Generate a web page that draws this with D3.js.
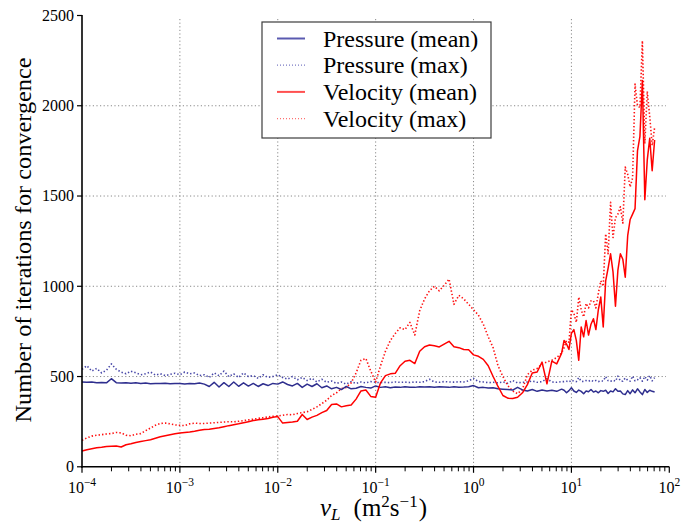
<!DOCTYPE html>
<html><head><meta charset="utf-8">
<script src="https://cdn.jsdelivr.net/npm/d3@7"></script>
<style>body{margin:0;background:#fff}svg{display:block}</style>
</head><body>
<svg id="chart" width="695" height="526"></svg>
<script>
// log10 of nu_L sample positions
const nuExp = [-4,-3.95,-3.9,-3.85,-3.8,-3.75,-3.7,-3.65,-3.6,-3.55,-3.5,-3.45,-3.4,-3.35,-3.3,-3.25,-3.2,-3.15,-3.1,-3.05,
-3,-2.95,-2.9,-2.85,-2.8,-2.75,-2.7,-2.65,-2.6,-2.55,-2.5,-2.45,-2.4,-2.35,-2.3,-2.25,-2.2,-2.15,-2.1,-2.05,
-2,-1.95,-1.9,-1.85,-1.8,-1.75,-1.7,-1.65,-1.6,-1.55,-1.5,-1.45,-1.4,-1.35,-1.3,-1.25,-1.2,-1.15,-1.1,-1.05,
-1,-0.95,-0.9,-0.85,-0.8,-0.75,-0.7,-0.65,-0.6,-0.55,-0.5,-0.45,-0.4,-0.35,-0.3,-0.25,-0.2,-0.15,-0.1,-0.05,
0,0.05,0.1,0.15,0.2,0.25,0.3,0.35,0.4,0.45,0.5,0.55,0.6,0.65,0.7,0.75,0.8,0.85,0.9,
0.925,0.95,0.975,1,1.025,1.05,1.075,1.1,1.125,1.15,1.175,1.2,1.225,1.25,1.275,1.3,1.325,1.35,1.375,1.4,
1.425,1.45,1.475,1.5,1.525,1.55,1.575,1.6,1.625,1.65,1.675,1.7,1.725,1.75,1.775,1.8,1.825,1.85];

const pressureMean = [470,468,470,466,467,465,488,466,464,466,
463,465,462,464,460,462,461,463,460,462,
461,459,462,460,464,458,445,468,442,466,
445,470,446,465,447,462,445,460,450,462,
458,470,456,448,462,440,458,445,460,438,
448,432,440,428,445,432,435,445,440,436,
448,440,443,438,442,440,443,441,440,443,
442,444,441,443,442,440,443,441,442,444,
450,438,440,436,438,432,430,428,425,440,
426,420,428,418,425,420,424,418,430,
424,410,422,438,420,412,425,418,405,420,
416,428,414,420,410,422,418,424,406,420,
415,432,418,420,404,400,422,405,426,410,
432,415,400,428,412,424,418,414];

const pressureMax = [540,560,530,545,520,535,570,540,525,515,
530,520,510,515,525,508,515,505,512,518,
510,525,515,520,505,510,495,520,505,530,
500,515,495,520,500,505,490,510,495,500,
510,495,485,500,482,495,478,490,470,485,
468,475,462,470,458,472,462,470,465,472,
468,466,468,466,470,468,469,467,470,468,
472,485,470,468,472,470,469,471,470,476,
490,472,470,466,468,465,470,462,478,465,
468,470,475,468,472,488,470,468,472,
472,474,470,480,474,472,494,474,472,478,
474,480,473,478,472,476,475,500,477,474,
480,474,502,476,474,492,480,474,502,476,
482,494,474,500,480,505,476,494];

const velocityMean = [88,95,100,105,108,112,114,115,110,122,
128,135,140,145,150,158,166,172,178,183,
187,190,193,197,202,206,208,212,216,222,
228,233,238,244,250,256,260,264,268,275,
278,242,245,248,252,290,262,275,285,300,
312,345,348,332,338,342,375,420,425,390,
385,465,505,515,518,560,585,590,572,640,
665,675,670,664,680,695,665,660,650,648,
620,612,595,560,500,445,395,380,378,385,
410,455,520,525,580,460,585,570,630,
700,680,650,740,760,700,590,775,720,810,
730,790,820,760,870,940,775,1030,1100,1180,
1080,890,1090,1180,1150,1050,1280,1370,1400,1430,
1750,1830,2140,1480,1700,1820,1640,1810];

const velocityMax = [147,160,170,175,178,182,184,190,188,175,
172,180,184,200,215,230,240,242,238,232,
230,228,238,242,240,240,242,244,246,248,
250,249,252,256,260,264,268,272,276,280,
282,285,290,288,295,300,305,318,332,350,
369,395,410,433,440,465,520,590,600,530,
470,560,640,700,738,770,760,800,730,865,
930,975,1000,975,1005,1040,900,950,930,900,
870,840,790,720,660,560,500,450,420,405,
430,510,535,545,570,580,590,605,630,
660,700,690,870,850,800,940,870,830,905,
880,920,920,880,960,1030,1000,1290,1180,1465,
1270,1380,1400,1440,1350,1660,1620,1550,1600,2120,
2000,1990,2360,1790,2080,1940,1780,1880];

const yTickValues = [0,500,1000,1500,2000,2500];
const xTickExps = [-4,-3,-2,-1,0,1,2];
const seriesNames = ["Pressure (mean)","Pressure (max)","Velocity (mean)","Velocity (max)"];

const FONT = "Liberation Serif, DejaVu Serif, serif";
const svg = d3.select("#chart");
const x = d3.scaleLog().domain([1e-4,1e2]).range([82,669.3]);
const y = d3.scaleLinear().domain([0,2500]).range([466.8,15.5]);

// grid
const grid = svg.append("g").attr("stroke","#8a8a8a").attr("stroke-width",1).attr("stroke-dasharray","1.2,2.4");
xTickExps.filter(e=>e>-4 && e<2).forEach(e=>{
  grid.append("line").attr("x1",x(10**e)).attr("x2",x(10**e)).attr("y1",19).attr("y2",y(0));
});
yTickValues.filter(v=>v>0 && v<2500).forEach(v=>{
  grid.append("line").attr("x1",x(1e-4)).attr("x2",666).attr("y1",y(v)).attr("y2",y(v));
});

// series
const series = [
  {name:seriesNames[0], vals:pressureMean, color:"#2e2e8e", dash:null, lc:"#5a5ab0"},
  {name:seriesNames[1], vals:pressureMax, color:"#4848a8", dash:"1.4,2.1", lc:"#7a7ac4"},
  {name:seriesNames[2], vals:velocityMean, color:"#ff0000", dash:null, lc:"#ff5050"},
  {name:seriesNames[3], vals:velocityMax, color:"#ff1010", dash:"1.4,2.1", lc:"#ff7070"}
];
const drawOrder = [1,3,0,2];
const line = d3.line().x(d=>x(10**d[0])).y(d=>y(d[1]));
drawOrder.forEach(i=>{
  const s = series[i];
  const pts = nuExp.map((e,k)=>[e,s.vals[k]]);
  svg.append("path").datum(pts).attr("d",line).attr("fill","none")
    .attr("stroke",s.color).attr("stroke-width",s.dash?1.6:1.5)
    .attr("stroke-dasharray",s.dash).attr("stroke-linejoin","round");
});

// axes
const ax = svg.append("g").attr("stroke","#000");
ax.append("line").attr("x1",x(1e-4)).attr("x2",x(1e-4)).attr("y1",y(2500)-0.5).attr("y2",y(0)+1).attr("stroke-width",1.6);
ax.append("line").attr("x1",x(1e-4)-0.8).attr("x2",x(1e2)).attr("y1",y(0)).attr("y2",y(0)).attr("stroke-width",1.6);
yTickValues.forEach(v=>{
  ax.append("line").attr("x1",x(1e-4)-5).attr("x2",x(1e-4)).attr("y1",y(v)).attr("y2",y(v)).attr("stroke-width",1.2);
  svg.append("text").attr("x",74).attr("y",y(v)).attr("dy","0.34em").attr("text-anchor","end")
    .style("font-family",FONT).attr("font-size",16).text(v);
});
for(let e=-4;e<2;e++){
  for(let m=2;m<=9;m++){
    const xv=x(m*10**e);
    ax.append("line").attr("x1",xv).attr("x2",xv).attr("y1",y(0)).attr("y2",y(0)+4.5).attr("stroke-width",1);
  }
}
xTickExps.forEach(e=>{
  const xv=x(10**e);
  ax.append("line").attr("x1",xv).attr("x2",xv).attr("y1",y(0)).attr("y2",y(0)+6).attr("stroke-width",1.2);
  const t=svg.append("text").attr("x",xv).attr("y",492.5).attr("text-anchor","middle")
    .style("font-family",FONT).attr("font-size",16);
  t.append("tspan").text("10");
  t.append("tspan").attr("dy",-7).attr("font-size",11.5).text(e<0?"\u2212"+(-e):String(e));
});

// axis labels
svg.append("text").attr("transform","translate(31,240) rotate(-90)").attr("text-anchor","middle")
  .style("font-family",FONT).attr("font-size",24).attr("textLength",365).attr("lengthAdjust","spacingAndGlyphs")
  .text("Number of iterations for convergence");
const xl = svg.append("text").attr("x",320).attr("y",516).style("font-family",FONT).attr("font-size",25);
xl.append("tspan").attr("font-style","italic").text("\u03bd");
xl.append("tspan").attr("font-style","italic").attr("font-size",17).attr("dy",4).text("L");
xl.append("tspan").attr("dy",-4).attr("dx",13).text("(m");
xl.append("tspan").attr("font-size",17).attr("dy",-9).text("2");
xl.append("tspan").attr("dy",9).text("s");
xl.append("tspan").attr("font-size",17).attr("dy",-9).text("\u22121");
xl.append("tspan").attr("dy",9).attr("dx",1).text(")");

// legend
const lg = svg.append("g");
lg.append("rect").attr("x",262).attr("y",22).attr("width",229).attr("height",116)
  .attr("fill","#fff").attr("stroke","#3c3c3c").attr("stroke-width",1.2);
series.forEach((s,i)=>{
  const cy = 38.5 + i*26.7;
  lg.append("line").attr("x1",277).attr("x2",305).attr("y1",cy).attr("y2",cy)
    .attr("stroke",s.lc).attr("stroke-width",s.dash?1.2:2).attr("stroke-dasharray",s.dash?"1,2":null);
  lg.append("text").attr("x",323).attr("y",cy+8).style("font-family",FONT).attr("font-size",24).text(s.name);
});
</script>
</body></html>
